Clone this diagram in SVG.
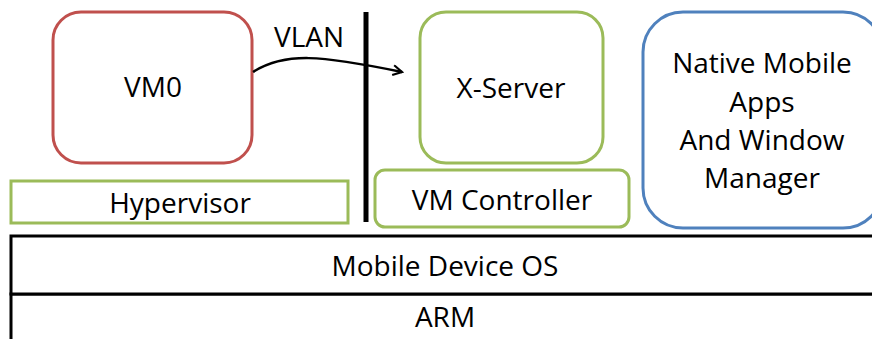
<svg xmlns="http://www.w3.org/2000/svg" width="872" height="339" viewBox="0 0 872 339">
  <defs>
    <style>
      text { font-family: "Open Sans", "Noto Sans", "Liberation Sans", sans-serif; font-size: 28px; fill: #000; text-anchor: middle; }
      .red { fill: #fff; stroke: #C0504D; stroke-width: 3; }
      .green { fill: #fff; stroke: #9BBB59; stroke-width: 3; }
      .blue { fill: #fff; stroke: #4F81BD; stroke-width: 3; }
      .layer { fill: #fff; stroke: #000; stroke-width: 3; }
      .wire { fill: none; stroke: #000; stroke-width: 2.5; }
    </style>
    <marker id="open-arrow" viewBox="0 0 12 12" refX="10" refY="6" markerWidth="12" markerHeight="12" markerUnits="userSpaceOnUse" orient="auto">
      <path d="M1,1 L10,6 L1,11" fill="none" stroke="#000" stroke-width="2.2"/>
    </marker>
  </defs>

  <!-- hardware and OS layers -->
  <g id="arm">
    <rect class="layer" x="11" y="294" width="880" height="60"/>
    <text x="445" y="327">ARM</text>
  </g>
  <g id="mobile-os">
    <rect class="layer" x="11" y="236" width="880" height="58"/>
    <text x="445" y="276">Mobile Device OS</text>
  </g>

  <g id="hypervisor">
    <rect class="green" x="11" y="181" width="337" height="42"/>
    <text x="180" y="213">Hypervisor</text>
  </g>

  <g id="vm0">
    <rect class="red" x="53" y="12" width="199" height="151" rx="28"/>
    <text x="153" y="97">VM0</text>
  </g>

  <g id="x-server">
    <rect class="green" x="420" y="12" width="183" height="151" rx="26"/>
    <text x="511" y="98">X-Server</text>
  </g>

  <g id="vm-controller">
    <rect class="green" x="375" y="170" width="254" height="57" rx="10"/>
    <text x="502" y="210">VM Controller</text>
  </g>

  <g id="native-apps">
    <rect class="blue" x="643" y="12" width="240" height="216" rx="40"/>
    <text x="762" y="73">Native Mobile</text>
    <text x="762" y="112">Apps</text>
    <text x="762" y="150">And Window</text>
    <text x="762" y="188">Manager</text>
  </g>

  <!-- isolation boundary -->
  <g id="boundary">
    <line x1="366" y1="12" x2="366" y2="222" stroke="#000" stroke-width="5"/>
  </g>

  <g id="connectors">
    <path class="wire" d="M253,72 C285,52 320,55 402,72" marker-end="url(#open-arrow)"/>
    <text x="309" y="47">VLAN</text>
  </g>
</svg>
